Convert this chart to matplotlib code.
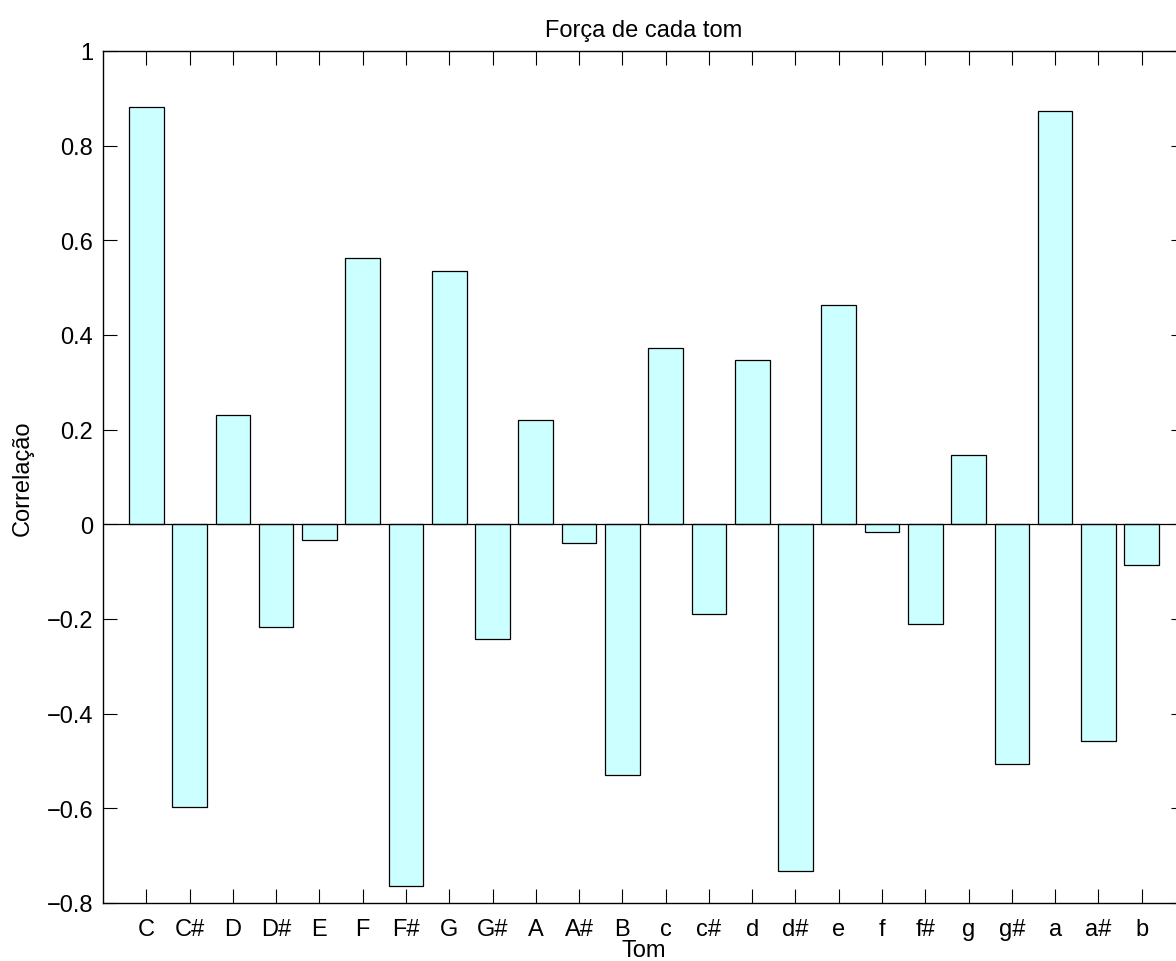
import matplotlib
matplotlib.use('Agg')
import matplotlib.pyplot as plt
import numpy as np

tones = ['C', 'C#', 'D', 'D#', 'E', 'F', 'F#', 'G', 'G#', 'A', 'A#', 'B',
         'c', 'c#', 'd', 'd#', 'e', 'f', 'f#', 'g', 'g#', 'a', 'a#', 'b']
corr = [0.881, -0.597, 0.230, -0.217, -0.034, 0.562, -0.765, 0.536, -0.243,
        0.220, -0.040, -0.530, 0.372, -0.190, 0.348, -0.733, 0.464, -0.017,
        -0.211, 0.146, -0.506, 0.874, -0.458, -0.085]
yticks = [-0.8, -0.6, -0.4, -0.2, 0, 0.2, 0.4, 0.6, 0.8, 1]
ytick_labels = ['\u22120.8', '\u22120.6', '\u22120.4', '\u22120.2', '0',
                '0.2', '0.4', '0.6', '0.8', '1']

plt.rcParams['font.family'] = ['Liberation Sans', 'DejaVu Sans']
plt.rcParams['font.size'] = 17

fig = plt.figure(figsize=(11.76, 9.62), dpi=100)
ax = fig.add_axes([103 / 1176, 58 / 962, 1082 / 1176, 852 / 962])

x = np.arange(1, len(tones) + 1)
ax.bar(x, corr, width=0.8, color='#ccffff', edgecolor='black', linewidth=0.9, zorder=2)
ax.axhline(0, color='black', linewidth=0.9, zorder=3)

ax.set_xlim(0, len(tones) + 1)
ax.set_ylim(-0.8, 1)
ax.set_xticks(x)
ax.set_xticklabels(tones)
ax.set_yticks(yticks)
ax.set_yticklabels(ytick_labels)
ax.tick_params(direction='in', length=10, width=0.8, top=True, right=True)
ax.tick_params(axis='x', pad=11)
ax.tick_params(axis='y', pad=7)
for s in ax.spines.values():
    s.set_linewidth(1.0)

ax.set_title('Força de cada tom', fontsize=17, pad=11)
ax.set_xlabel('Tom')
ax.set_ylabel('Correlação')
ax.xaxis.set_label_coords(0.5, (904 - 940) / 852)
ax.yaxis.set_label_coords((34 - 103) / 1082, 0.5)

fig.savefig('out.png', dpi=100)
